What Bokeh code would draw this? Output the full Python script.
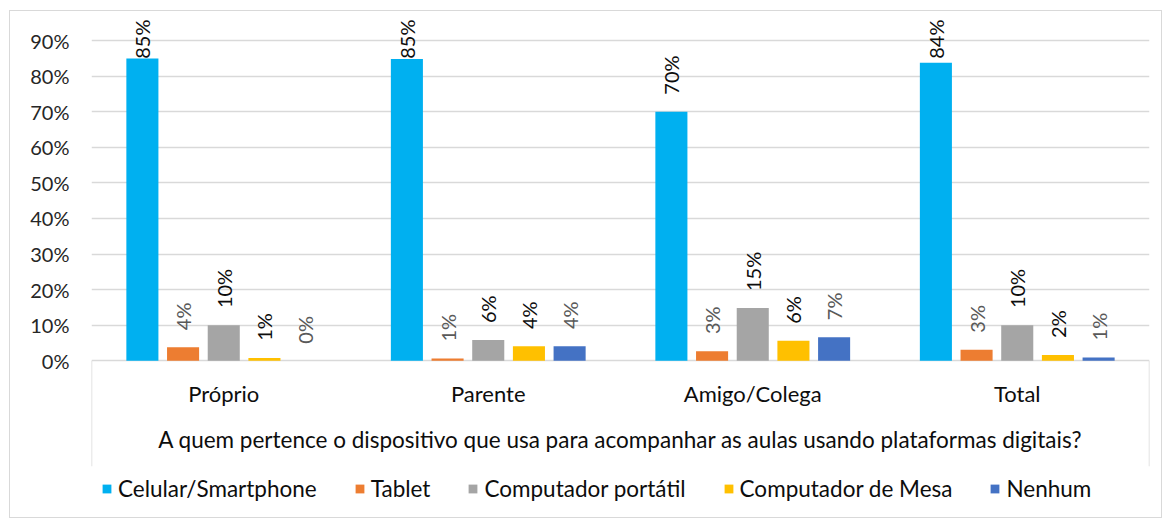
import numpy as np
from bokeh.plotting import figure
from bokeh.models import (ColumnDataSource, FactorRange, FixedTicker, NumeralTickFormatter,
                          Legend, LegendItem, Range1d, Label)
from bokeh.transform import dodge
from bokeh.core.properties import value
from bokeh.embed import file_html
from bokeh.resources import INLINE

categories = ["Próprio", "Parente", "Amigo/Colega", "Total"]
series_names = ["Celular/Smartphone", "Tablet", "Computador portátil", "Computador de Mesa", "Nenhum"]
celular = [0.850, 0.848, 0.700, 0.838]
tablet = [0.038, 0.006, 0.027, 0.031]
portatil = [0.100, 0.058, 0.148, 0.100]
mesa = [0.008, 0.041, 0.056, 0.016]
nenhum = [0.000, 0.041, 0.066, 0.009]
y_ticks = [0.0, 0.1, 0.2, 0.3, 0.4, 0.5, 0.6, 0.7, 0.8, 0.9]
axis_title = "A quem pertence o dispositivo que usa para acompanhar as aulas usando plataformas digitais?"

series_values = [celular, tablet, portatil, mesa, nenhum]
colors = ["#00B0F0", "#ED7D31", "#A5A5A5", "#FFC000", "#4472C4"]
label_colors = ["#0d0d0d", "#595959", "#0d0d0d", "#0d0d0d", "#595959"]

FONT = "Lato"
PX_PER_UNIT = 354.0

p = figure(x_range=FactorRange(*categories, range_padding=0),
           y_range=Range1d(-0.4266, 0.9593),
           width=1153, height=508, output_backend="svg", toolbar_location=None,
           title=None, min_border_left=81, min_border_right=14,
           min_border_top=8, min_border_bottom=7)
p.styles = {"border": "1px solid #d9d9d9", "margin-left": "9px", "margin-top": "10px"}
p.outline_line_color = None
p.background_fill_color = "white"
p.border_fill_color = "white"

p.xaxis.visible = False
p.xgrid.visible = False
p.ygrid.ticker = FixedTicker(ticks=y_ticks)
p.ygrid.grid_line_color = "#d9d9d9"
p.ygrid.grid_line_width = 1.5

p.yaxis.ticker = FixedTicker(ticks=y_ticks)
p.yaxis.formatter = NumeralTickFormatter(format="0%")
p.yaxis.axis_line_color = None
p.yaxis.major_tick_line_color = None
p.yaxis.minor_tick_line_color = None
p.yaxis.major_tick_in = 0
p.yaxis.major_tick_out = 0
p.yaxis.major_label_standoff = 22
p.yaxis.major_label_text_font = FONT
p.yaxis.major_label_text_font_size = "20px"
p.yaxis.major_label_text_color = "#262626"

n = len(series_names)
step = 0.1538
width = 0.1212
renderers = []
for i, (name, vals) in enumerate(zip(series_names, series_values)):
    off = (i - (n - 1) / 2) * step
    v = np.array(vals)
    ly = np.minimum(v + 17 / PX_PER_UNIT, 0.849)
    src = ColumnDataSource(dict(x=categories, top=v, ly=ly,
                                lab=[f"{round(x * 100):.0f}%" for x in v]))
    r = p.vbar(x=dodge("x", off, range=p.x_range), top="top", width=width,
               fill_color=colors[i], line_color=None, source=src)
    renderers.append(r)
    p.text(x=dodge("x", off, range=p.x_range), y="ly", text="lab", source=src,
           angle=np.pi / 2, text_align="left", text_baseline="middle",
           text_font=value(FONT), text_font_size="20px", text_color=label_colors[i])

# category box lines
p.segment(x0=[0, len(categories)], y0=[0, 0], x1=[0, len(categories)], y1=[-0.2966, -0.2966],
          line_color="#d9d9d9", line_width=1.5)

p.text(x="x", y=-0.093, text="x", source=ColumnDataSource(dict(x=categories)),
       text_align="center", text_baseline="middle", text_font=value(FONT),
       text_font_size="22px", text_color="#0d0d0d")

p.add_layout(Label(x=len(categories) / 2, y=-0.22, text=axis_title, text_align="center",
                   text_baseline="middle", text_font=FONT, text_font_size="22.5px",
                   text_color="#0d0d0d"))

legend = Legend(items=[LegendItem(label=s, renderers=[r]) for s, r in zip(series_names, renderers)],
                orientation="horizontal", location=(10, 10), padding=0, margin=0,
                spacing=37, label_standoff=6, glyph_width=11, glyph_height=11,
                label_text_font=FONT, label_text_font_size="22.5px", label_text_color="#0d0d0d",
                border_line_color=None, background_fill_alpha=0)
p.add_layout(legend)

open("out.html", "w").write(file_html(p, INLINE))
